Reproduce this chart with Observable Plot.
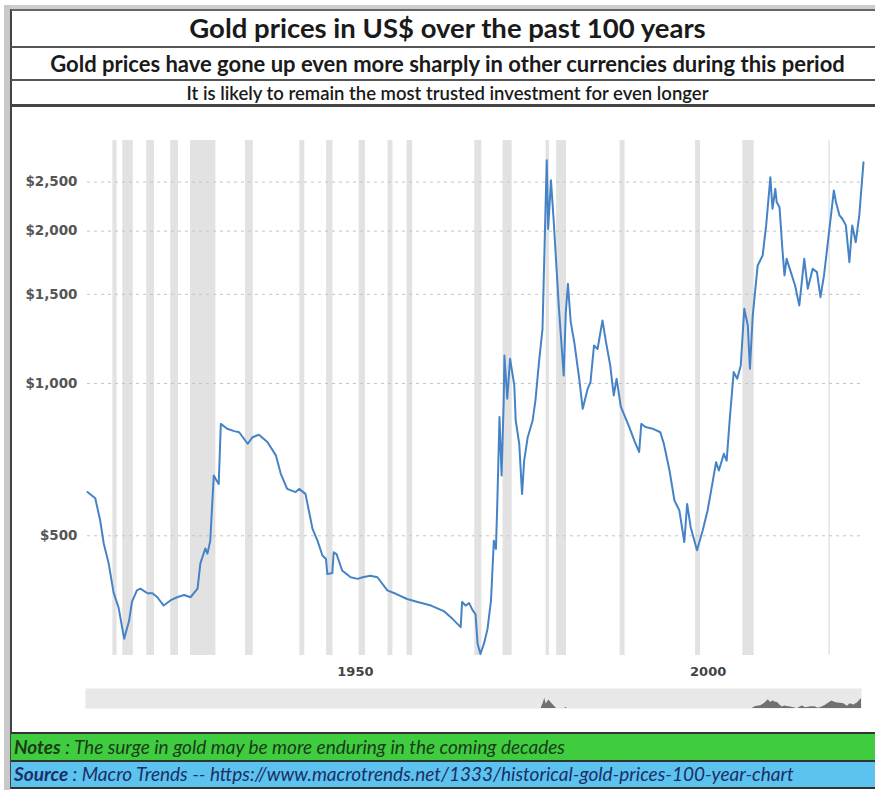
<!DOCTYPE html>
<html><head><meta charset="utf-8">
<script src="https://cdn.jsdelivr.net/npm/d3@7"></script>
<script src="https://cdn.jsdelivr.net/npm/@observablehq/plot@0.6"></script>
<style>
html,body{margin:0;padding:0;background:#fff;}
#page{position:relative;width:875px;height:790px;overflow:hidden;background:#fff;font-family:Lato,"Open Sans",sans-serif;}
.abs{position:absolute;}
.hl{position:absolute;left:11px;width:870px;background:#555;}
.ctext{position:absolute;left:11px;width:873px;text-align:center;white-space:nowrap;color:#1a1a1a;font-weight:bold;}
.ftext{position:absolute;left:14px;white-space:nowrap;font-style:italic;}
#main{position:absolute;left:0;top:107px;}
#nav{position:absolute;left:0;top:686px;}
#main svg text{font-weight:bold;}
</style></head>
<body><div id="page">
  <div class="abs" style="left:4px;top:5px;width:871px;height:4px;background:#cdcdcd"></div>
  <div class="abs" style="left:4px;top:5px;width:6px;height:785px;background:#c8c8c8"></div>
  <div class="abs" style="left:10px;top:9px;width:1.5px;height:780px;background:#444"></div>
  <div class="hl" style="top:9px;height:1.5px;background:#666"></div>
  <div class="ctext" style="top:11px;font-size:27.5px;line-height:34px">Gold prices in US$ over the past 100 years</div>
  <div class="hl" style="top:46px;height:2px"></div>
  <div class="ctext" style="top:50px;font-size:22px;line-height:28px">Gold prices have gone up even more sharply in other currencies during this period</div>
  <div class="hl" style="top:79px;height:2px"></div>
  <div class="ctext" style="top:82px;font-size:18.5px;line-height:23px;font-weight:600">It is likely to remain the most trusted investment for even longer</div>
  <div class="hl" style="top:104px;height:3px;background:#444"></div>
  <div id="main"></div>
  <div id="nav"></div>
  <div class="hl" style="top:732px;height:2px;background:#333"></div>
  <div class="abs" style="left:11px;top:734px;width:870px;height:26px;background:#3fcd3f"></div>
  <div class="ftext" style="top:735px;font-size:19px;line-height:24px;color:#1b3b1b"><b>Notes</b> : The surge in gold may be more enduring in the coming decades</div>
  <div class="hl" style="top:760px;height:1.5px;background:#333"></div>
  <div class="abs" style="left:11px;top:761.5px;width:870px;height:25.5px;background:#5cc3ef"></div>
  <div class="ftext" style="top:762px;font-size:19px;line-height:24px;color:#1c2f66"><b>Source</b> : Macro Trends -- https://www.macrotrends.net/1333/historical-gold-prices-100-year-chart</div>
  <div class="hl" style="top:787px;height:1.5px;background:#333"></div>
</div>
<script>
const years = [1915.0,1916.1,1916.8,1917.3,1918.0,1918.7,1919.4,1920.2,1920.9,1921.3,1922.0,1922.5,1923.5,1924.2,1924.9,1925.8,1926.8,1927.7,1928.7,1929.6,1930.6,1931.0,1931.7,1932.0,1932.4,1932.9,1933.3,1933.6,1933.9,1934.8,1935.8,1936.5,1937.7,1938.4,1939.3,1940.5,1941.7,1942.4,1943.3,1944.5,1945.0,1945.9,1946.9,1947.6,1948.3,1948.8,1949.0,1949.7,1949.9,1950.3,1951.1,1952.3,1953.3,1954.0,1955.1,1956.1,1957.5,1958.7,1960.3,1961.8,1963.7,1965.5,1966.7,1967.9,1968.1,1968.6,1969.1,1969.6,1970.0,1970.3,1970.7,1971.2,1971.7,1972.2,1972.6,1972.9,1973.1,1973.4,1973.7,1974.0,1974.1,1974.5,1974.9,1975.5,1975.7,1976.2,1976.6,1976.9,1977.4,1978.1,1978.5,1979.0,1979.5,1979.9,1980.1,1980.3,1980.7,1981.1,1981.8,1982.5,1982.8,1983.1,1983.5,1984.0,1984.7,1985.2,1985.9,1986.3,1986.8,1987.3,1988.0,1988.5,1989.1,1989.6,1990.0,1990.6,1991.8,1992.5,1993.2,1993.5,1994.1,1995.1,1996.2,1996.7,1997.5,1998.2,1998.9,1999.6,2000.0,2000.5,2001.4,2002.2,2002.9,2003.4,2004.1,2004.5,2005.2,2005.6,2006.1,2006.6,2007.1,2007.6,2008.1,2008.6,2008.9,2009.3,2010.0,2010.7,2011.2,2011.8,2012.1,2012.5,2012.7,2013.1,2013.5,2013.8,2014.1,2014.7,2015.3,2015.9,2016.6,2017.1,2017.8,2018.4,2018.9,2019.4,2019.9,2020.8,2021.1,2021.6,2022.0,2022.5,2023.0,2023.4,2023.9,2024.4,2025.0];
const prices = [610,593,536,483,441,386,361,313,340,370,390,393,385,385,378,364,373,378,382,378,393,441,472,461,489,658,643,633,832,814,805,801,760,783,792,766,721,663,619,610,619,605,516,489,457,450,420,422,464,460,427,414,411,414,417,414,390,384,375,370,364,355,343,330,370,364,368,356,350,306,292,306,327,373,489,471,587,858,658,926,1136,933,1119,991,845,760,605,704,783,845,926,1102,1282,2148,2760,2020,2520,2080,1426,1037,1383,1574,1322,1207,1022,891,976,1006,1189,1170,1332,1207,1085,947,1022,900,820,772,732,832,820,814,801,760,673,587,561,486,578,520,468,512,561,614,699,673,726,704,871,1053,1022,1085,1405,1302,1069,1363,1711,1790,2053,2557,2214,2425,2280,2230,1845,1635,1763,1660,1562,1426,1763,1539,1685,1660,1481,1635,1874,2407,2280,2148,2116,2053,1737,2053,1902,2148,2737];
const recessionStart = [1918.6,1920.0,1923.4,1926.8,1929.6,1937.4,1945.1,1948.9,1953.5,1957.6,1960.3,1969.9,1973.9,1980.0,1981.5,1990.5,2001.2,2007.9,2020.1];
const recessionEnd   = [1919.2,1921.5,1924.5,1927.9,1933.2,1938.5,1945.8,1949.8,1954.4,1958.3,1961.1,1970.9,1975.2,1980.5,1982.9,1991.2,2001.9,2009.5,2020.3];
const yTicks = [500,1000,1500,2000,2500];
const xTicks = [1950,2000];

const series = years.map((y,i)=>({year:y, price:prices[i]}));
const recessions = recessionStart.map((s,i)=>({x1:s, x2:recessionEnd[i]}));

const main = Plot.plot({
  width: 875, height: 578,
  marginTop: 33, marginBottom: 30, marginLeft: 87, marginRight: 12,
  x: {domain:[1915,2025]},
  y: {type:"log", domain:[290,3021]},
  style: {fontFamily:"'DejaVu Sans', sans-serif", background:"transparent"},
  marks: [
    Plot.rect(recessions, {x1:"x1", x2:"x2", fill:"#e2e2e2"}),
    Plot.gridY(yTicks, {stroke:"#c4c4c4", strokeOpacity:1, strokeDasharray:"3,4"}),
    Plot.axisY(yTicks, {tickFormat:d3.format("$,"), tickSize:0, tickPadding:10, fontSize:13.5, fill:"#555", label:null}),
    Plot.axisX(xTicks, {tickFormat:d=>String(d), tickSize:0, tickPadding:11, dx:21, fontSize:13, fill:"#444", label:null}),
    Plot.line(series, {x:"year", y:"price", stroke:"#4683c6", strokeWidth:2})
  ]
});
document.getElementById("main").appendChild(main);

const nav = Plot.plot({
  width: 875, height: 24,
  marginTop: 2, marginBottom: 2, marginLeft: 85, marginRight: 14,
  x: {domain:[1915,2025], axis:null},
  y: {domain:[1450,4000], axis:null},
  style: {background:"transparent"},
  marks: [
    Plot.frame({fill:"#e8e8e8", stroke:null}),
    Plot.areaY(series, {x:"year", y1:1450, y2:"price", fill:"#707070", clip:true})
  ]
});
document.getElementById("nav").appendChild(nav);
</script>
</body></html>
